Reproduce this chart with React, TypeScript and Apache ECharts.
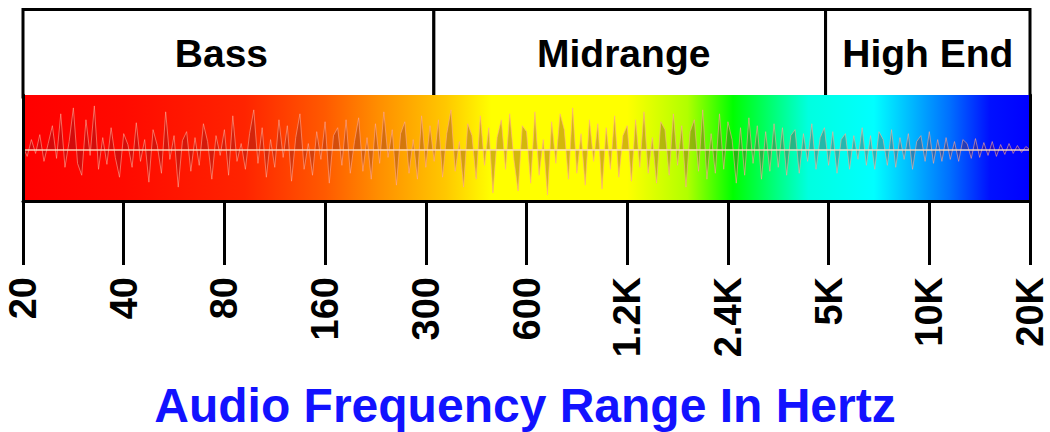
import React, { useEffect, useRef } from 'react';
import * as echarts from 'echarts';

const FONT = '"Liberation Sans", Arial, sans-serif';

const freqLabels = ['20', '40', '80', '160', '300', '600', '1.2K', '2.4K', '5K', '10K', '20K'];

const bandNames = ['Bass', 'Midrange', 'High End'];
const bandStart = [0, 4.08, 7.97];
const bandEnd = [4.08, 7.97, 10];

const titleText = 'Audio Frequency Range In Hertz';

// waveform spike heights (px-ish, + = up), read roughly left to right
const waveValues = [
  3, -7, 10, -4, 15, -12, 6, 24, -9, 36, -18, 8, 42, -14, -26, 30, -6, 44, -20, 12,
  -15, 22, -8, -28, 16, 5, -18, 27, -12, 10, -33, 20, 4, -24, 38, -10, 14, -38, 9, 18,
  -22, 12, -16, 26, 8, -30, 14, -6, 20, -26, 34, -12, 6, -20, 16, 40, -14, 22, -28, 10,
  -18, 30, -8, 24, -32, 12, 36, -20, 6, -26, 18, -10, 28, -34, 14, 22, -16, 30, -24, 8,
  32, -22, 12, -30, 26, -14, 38, -8, 20, -36, 16, 28, -24, 10, -30, 34, -18, 24, -12, 30,
  -28, 16, 40, -22, 8, -38, 26, 14, -30, 34, -16, 22, -44, 12, 30, -20, 36, -10, -42, 24,
  18, -34, 38, -26, 10, -46, 28, -14, 36, 20, -30, 42, -24, 16, -36, 30, -12, 26, -40, 22,
  -20, 34, -28, 14, 24, -32, 30, -18, 38, -24, 12, -34, 28, 20, -26, 36, -16, 24, -38, 18,
  30, -22, 40, -30, 16, -24, 36, -20, 28, 10, -34, 22, -26, 32, -14, 24, -30, 18, -22, 26,
  -18, 22, -26, 14, 20, -24, 16, -12, 26, -20, 12, 22, -16, 18, -24, 10, 16, -20, 14, -10,
  22, -16, 14, -20, 18, 10, -16, 20, -18, 12, -10, 16, -20, 8, 14, -12, 18, -14, 10, -12,
  12, -10, 8, -12, 10, 6, -9, 11, -8, 7, -6, 8, -7, 5, -5, 6, -4, 4, -3, 3, 0,
];

const spectrumStops = [
  { offset: 0, color: '#ff0000' },
  { offset: 0.1, color: '#ff0a00' },
  { offset: 0.22, color: '#ff2400' },
  { offset: 0.3, color: '#ff5a00' },
  { offset: 0.355, color: '#ff9000' },
  { offset: 0.42, color: '#ffc800' },
  { offset: 0.465, color: '#ffff00' },
  { offset: 0.6, color: '#ffff00' },
  { offset: 0.66, color: '#b0ff00' },
  { offset: 0.705, color: '#00ff00' },
  { offset: 0.78, color: '#00ffe0' },
  { offset: 0.845, color: '#00ffff' },
  { offset: 0.92, color: '#0070ff' },
  { offset: 0.96, color: '#0010ff' },
  { offset: 1, color: '#0000ff' },
];

const Y_MIN = -52;
const Y_MAX = 55;

export default function App() {
  const ref = useRef<HTMLDivElement>(null);
  useEffect(() => {
    const chart = echarts.init(ref.current as HTMLDivElement, null, { renderer: 'svg' });
    const n = waveValues.length;
    const gradient = new echarts.graphic.LinearGradient(0, 0, 1, 0, spectrumStops);
    const hiddenAxis = {
      axisLine: { show: false },
      axisTick: { show: false },
      axisLabel: { show: false },
      splitLine: { show: false },
    };
    const bandLabelOffset = [-7, -6, 0];
    chart.setOption({
      animation: false,
      backgroundColor: '#ffffff',
      textStyle: { fontFamily: FONT },
      title: {
        text: titleText,
        left: 'center',
        top: 376,
        textStyle: { fontSize: 48, fontWeight: 'bold', color: '#1212ff', fontFamily: FONT },
      },
      grid: [
        { left: 23, right: 20, top: 9.5, height: 87.5 },
        { left: 23, right: 20, top: 95, height: 106 },
      ],
      xAxis: [
        { type: 'value', gridIndex: 0, min: 0, max: 10, show: false },
        {
          type: 'category',
          gridIndex: 1,
          data: freqLabels,
          boundaryGap: false,
          position: 'bottom',
          z: 10,
          axisLine: { show: true, onZero: false, lineStyle: { color: '#000', width: 3 } },
          axisTick: { show: true, length: 64, interval: 0, lineStyle: { color: '#000', width: 3 } },
          axisLabel: {
            rotate: 90,
            margin: 76,
            interval: 0,
            fontSize: 38,
            fontWeight: 'bold',
            color: '#000',
            fontFamily: FONT,
          },
          splitLine: { show: false },
        },
        { type: 'value', gridIndex: 1, min: 0, max: n - 1, show: false },
      ],
      yAxis: [
        { type: 'value', gridIndex: 0, min: 0, max: 1, show: false },
        {
          type: 'value',
          gridIndex: 1,
          min: Y_MIN,
          max: Y_MAX,
          z: 10,
          ...hiddenAxis,
          axisLine: { show: true, onZero: false, lineStyle: { color: '#000', width: 3 } },
        },
        {
          type: 'value',
          gridIndex: 1,
          position: 'right',
          min: Y_MIN,
          max: Y_MAX,
          z: 10,
          ...hiddenAxis,
          axisLine: { show: true, onZero: false, lineStyle: { color: '#000', width: 3 } },
        },
      ],
      series: [
        {
          type: 'line',
          xAxisIndex: 0,
          yAxisIndex: 0,
          data: [],
          z: 1,
          markArea: {
            silent: true,
            itemStyle: { color: '#ffffff', borderColor: '#000', borderWidth: 3 },
            label: {
              show: true,
              position: 'inside',
              fontSize: 39,
              fontWeight: 'bold',
              color: '#000',
              fontFamily: FONT,
            },
            data: bandNames.map((nm, i) => [
              { name: nm, coord: [bandStart[i], 0], label: { offset: [bandLabelOffset[i], 0] } },
              { coord: [bandEnd[i], 1] },
            ]),
          },
        },
        {
          type: 'line',
          xAxisIndex: 2,
          yAxisIndex: 1,
          data: [],
          z: 2,
          markArea: {
            silent: true,
            itemStyle: { color: gradient },
            data: [[{ coord: [0, Y_MIN] }, { coord: [n - 1, Y_MAX] }]],
          },
        },
        {
          type: 'line',
          xAxisIndex: 2,
          yAxisIndex: 1,
          z: 3,
          data: waveValues.map((v, i) => [i, v]),
          symbol: 'none',
          silent: true,
          lineStyle: { color: 'rgba(255,170,150,0.6)', width: 1 },
          areaStyle: { color: 'rgba(115,25,35,0.45)', origin: 0 },
          markLine: {
            silent: true,
            symbol: 'none',
            label: { show: false },
            lineStyle: { color: 'rgba(255,225,200,0.9)', width: 1.5, type: 'solid' },
            data: [{ yAxis: 0 }],
          },
        },
      ],
    });
    return () => chart.dispose();
  }, []);
  return (
    <div
      ref={ref}
      style={{ position: 'absolute', left: 0, top: 0, width: 1050, height: 432, background: '#fff' }}
    />
  );
}
